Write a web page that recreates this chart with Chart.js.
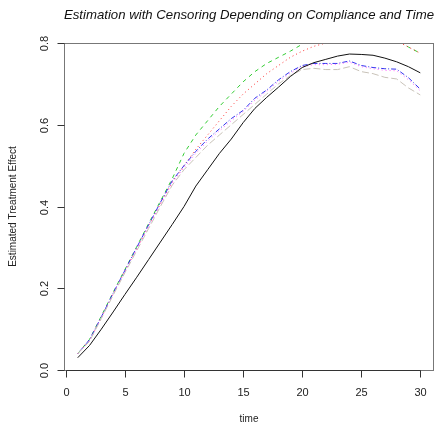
<!DOCTYPE html>
<html>
<head>
<meta charset="utf-8">
<script src="https://cdn.jsdelivr.net/npm/chart.js@4"></script>
<style>
  html, body { margin: 0; padding: 0; background: #fff; }
  #wrap { width: 437px; height: 428px; }
</style>
</head>
<body>
<div id="wrap"><canvas id="chartEffect" width="437" height="428"></canvas></div>
<script>
const times = [1,2,3,4,5,6,7,8,9,10,11,12,13,14,15,16,17,18,19,20,21,22,23,24,25,26,27,28,29,30];

const blackVals = [0.030,0.060,0.100,0.142,0.185,0.227,0.270,0.313,0.356,0.400,0.450,0.490,0.530,0.565,0.605,0.640,0.667,0.692,0.718,0.740,0.752,0.760,0.768,0.773,0.772,0.770,0.763,0.754,0.742,0.727];
const redVals   = [0.040,0.072,0.128,0.186,0.242,0.297,0.352,0.407,0.460,0.500,0.540,0.575,0.610,0.645,0.675,0.700,0.725,0.745,0.765,0.780,0.792,0.800,0.810,0.815,0.820,0.820,0.815,0.805,0.790,0.775];
const greenVals = [0.040,0.075,0.132,0.190,0.246,0.302,0.358,0.413,0.468,0.530,0.575,0.610,0.645,0.675,0.705,0.730,0.750,0.765,0.780,0.797,0.815,0.830,0.840,0.845,0.840,0.830,0.820,0.808,0.790,0.775];
const blueVals  = [0.040,0.074,0.130,0.188,0.244,0.300,0.355,0.410,0.463,0.500,0.535,0.565,0.590,0.615,0.635,0.665,0.685,0.710,0.730,0.745,0.750,0.750,0.750,0.756,0.745,0.740,0.737,0.736,0.715,0.687];
const magentaVals = [0.040,0.072,0.128,0.186,0.242,0.297,0.352,0.405,0.457,0.495,0.530,0.560,0.585,0.610,0.632,0.660,0.682,0.706,0.726,0.742,0.747,0.747,0.748,0.753,0.742,0.737,0.733,0.732,0.710,0.683];
const greyVals  = [0.040,0.070,0.126,0.183,0.238,0.292,0.346,0.400,0.452,0.490,0.520,0.550,0.575,0.600,0.625,0.650,0.675,0.700,0.720,0.735,0.738,0.735,0.735,0.742,0.730,0.725,0.716,0.712,0.690,0.673];

const xTicks = [0,5,10,15,20,25,30];
const yTicks = [0.0,0.2,0.4,0.6,0.8];

const pts = (vals) => times.map((t, i) => ({ x: t, y: vals[i] }));

function line(vals, color, dash) {
  return {
    data: pts(vals),
    borderColor: color,
    borderWidth: 1,
    borderDash: dash,
    pointRadius: 0,
    tension: 0,
    fill: false,
  };
}

// axes, box and labels drawn R-style
const rAxes = {
  id: "rAxes",
  afterDraw(chart) {
    const c = chart.ctx;
    const a = chart.chartArea;
    const xs = chart.scales.x;
    const ys = chart.scales.y;
    c.save();
    c.strokeStyle = "#777";
    c.lineWidth = 1;
    c.strokeRect(a.left + 0.5, a.top + 0.5, a.right - a.left - 1, a.bottom - a.top);

    c.strokeStyle = "#333";
    c.fillStyle = "#222";
    c.font = "11px 'Liberation Sans', Arial, sans-serif";

    // x axis
    const x0 = Math.round(xs.getPixelForValue(xTicks[0])) + 0.5;
    const x1 = Math.round(xs.getPixelForValue(xTicks[xTicks.length - 1])) + 0.5;
    const yb = Math.round(a.bottom) + 0.5;
    c.beginPath();
    c.moveTo(x0, yb); c.lineTo(x1, yb);
    c.stroke();
    c.textAlign = "center";
    c.textBaseline = "middle";
    xTicks.forEach((t) => {
      const px = Math.round(xs.getPixelForValue(t)) + 0.5;
      c.beginPath();
      c.moveTo(px, yb); c.lineTo(px, yb + 7);
      c.stroke();
      c.fillText(String(t), px, 393);
    });

    // y axis
    const xl = Math.round(a.left) + 0.5;
    yTicks.forEach((v) => {
      const py = Math.round(ys.getPixelForValue(v)) + 0.5;
      c.beginPath();
      c.moveTo(xl - 7, py); c.lineTo(xl, py);
      c.stroke();
      c.save();
      c.translate(45, py);
      c.rotate(-Math.PI / 2);
      c.fillText(v.toFixed(1), 0, 0);
      c.restore();
    });

    // titles
    c.font = "10px 'Liberation Sans', Arial, sans-serif";
    c.fillText("time", (a.left + a.right) / 2, 419);
    c.save();
    c.translate(13, (a.top + a.bottom) / 2);
    c.rotate(-Math.PI / 2);
    c.fillText("Estimated Treatment Effect", 0, 0);
    c.restore();

    c.font = "italic 13.2px 'Liberation Sans', Arial, sans-serif";
    c.fillStyle = "#111";
    c.fillText("Estimation with Censoring Depending on Compliance and Time", (a.left + a.right) / 2, 15);
    c.restore();
  },
};

new Chart(document.getElementById("chartEffect").getContext("2d"), {
  type: "line",
  data: {
    datasets: [
      line(blackVals, "#111111", []),
      line(greyVals, "#c8c2b8", [7, 3]),
      line(magentaVals, "#ff66ff", [1, 3]),
      line(blueVals, "#3333ee", [1, 2, 5, 2]),
      line(redVals, "#ff3333", [1, 3]),
      line(greenVals, "#33cc33", [4, 4]),
    ],
  },
  plugins: [rAxes],
  options: {
    responsive: false,
    animation: false,
    layout: { padding: { left: 64, right: 3, top: 43, bottom: 58 } },
    plugins: { legend: { display: false }, tooltip: { enabled: false }, title: { display: false } },
    scales: {
      x: { type: "linear", min: -0.16, max: 31.16, display: false },
      y: { type: "linear", min: 0, max: 0.8, display: false },
    },
  },
});
</script>
</body>
</html>
